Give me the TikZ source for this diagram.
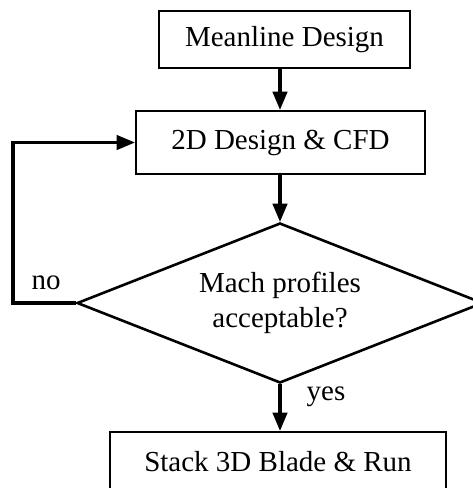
\documentclass[tikz,border=0pt]{standalone}
\usepackage{fontspec}
\setmainfont{Liberation Serif}
\usetikzlibrary{ shapes.geometric, % For the decision diamond
                 arrows,
                 positioning,
               }
\tikzstyle{block} = [rectangle, draw=black, line width=2.6pt, text centered, inner sep=0pt]
\tikzstyle{decision} = [diamond, aspect=2.5, draw=black, line width=2.6pt, inner sep=0pt, align=center]
\tikzstyle{flow} = [-triangle 45, line width=3.3pt]
\tikzstyle{tag} = [inner sep=0pt]

\begin{document}
\begin{tikzpicture}[x=1pt, y=-1pt, font=\fontsize{29}{35}\selectfont]
  \useasboundingbox (0, 0) rectangle (473, 488);
  \node (mean) [block, minimum width=251pt, minimum height=57pt] at (284.5, 39.5) {Meanline Design};
  \node (cfd) [block, minimum width=289pt, minimum height=63pt] at (280.5, 142.5) {2D Design \& CFD};
  \node (mach) [decision, minimum width=406pt, minimum height=160pt] at (280, 303) {Mach profiles\\acceptable?};
  \node (stack) [block, minimum width=336pt, minimum height=60pt] at (278, 462) {Stack 3D Blade \& Run};
  \coordinate (back) at (13, 303);

  \draw [flow] (mean.south -| mach.north) -- (cfd.north -| mach.north);
  \draw [flow] (cfd.south -| mach.north) -- (mach.north);
  \draw [flow] (mach.south) -- (stack.north -| mach.south);
  \draw [flow] (mach.west) -- (back) |- (cfd.west);

  \node (no) [tag] at (46, 283) {no};
  \node (yes) [tag] at (326, 397) {yes};
\end{tikzpicture}
\end{document}
